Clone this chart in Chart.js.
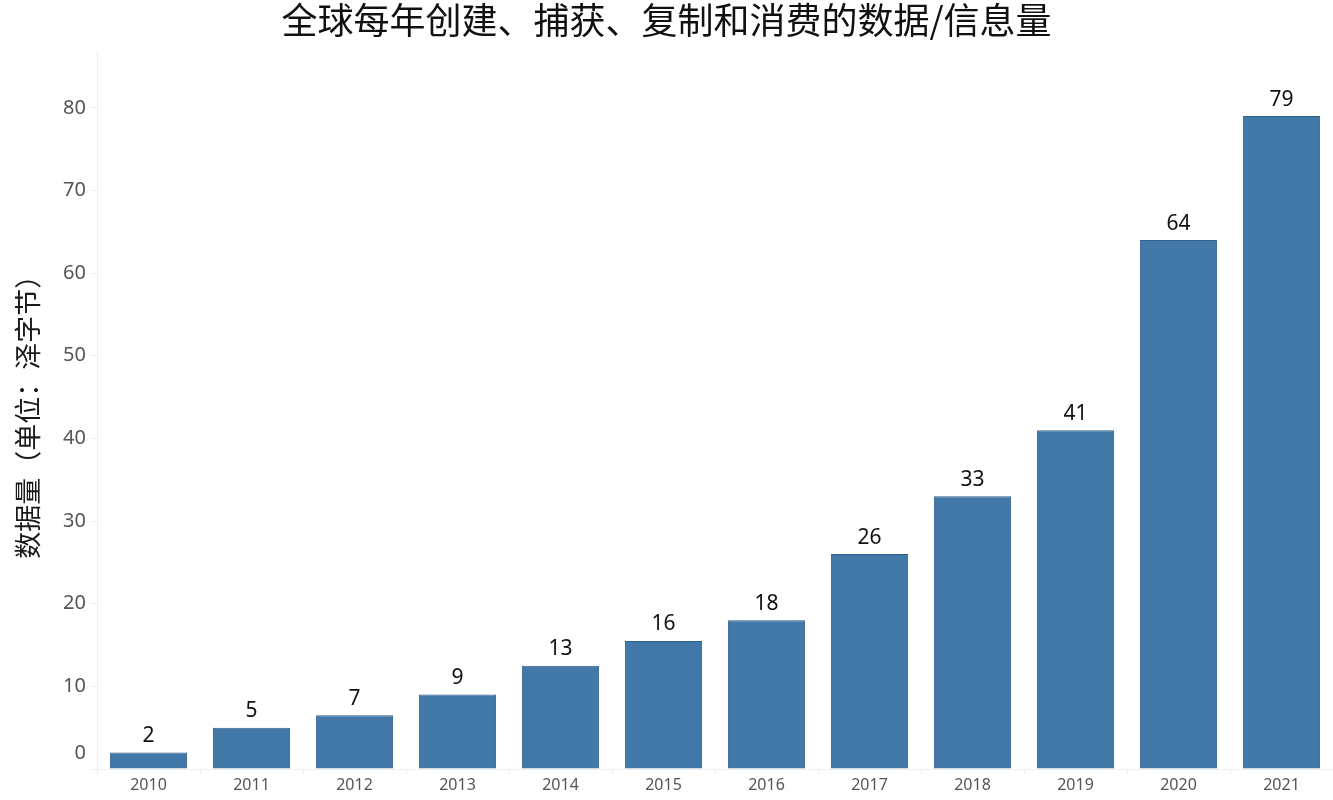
<!DOCTYPE html>
<html>
<head>
<meta charset="utf-8">
<script src="https://cdn.jsdelivr.net/npm/chart.js@4"></script>
<style>
html,body{margin:0;padding:0;background:#fff;}
#wrap{width:1333px;height:800px;}
</style>
</head>
<body>
<div id="wrap"><canvas id="c"></canvas></div>
<script>
const categories = ['2010','2011','2012','2013','2014','2015','2016','2017','2018','2019','2020','2021'];
const values = [2, 5, 6.5, 9, 12.5, 15.5, 18, 26, 33, 41, 64, 79];
const yTicks = [0, 10, 20, 30, 40, 50, 60, 70, 80];
const chartTitle = '全球每年创建、捕获、复制和消费的数据/信息量';
const yTitle = '数据量（单位：泽字节）';

const numFont = "'Noto Sans', 'DejaVu Sans', sans-serif";
const cjkFont = "'Noto Sans CJK SC', sans-serif";

const labelPlugin = {
  id: 'valueLabels',
  afterDatasetsDraw(chart) {
    const ctx = chart.ctx;
    const meta = chart.getDatasetMeta(0);
    ctx.save();
    ctx.font = "21px " + numFont;
    ctx.fillStyle = '#111';
    ctx.textAlign = 'center';
    ctx.textBaseline = 'bottom';
    meta.data.forEach((bar, i) => {
      ctx.fillText(String(Math.round(values[i])), bar.x, bar.y - 6);
    });
    ctx.restore();
  }
};

const zeroLabelPlugin = {
  id: 'zeroLabel',
  afterDraw(chart) {
    const y = chart.scales.y;
    const ctx = chart.ctx;
    ctx.save();
    ctx.font = "20px " + numFont;
    ctx.fillStyle = '#555';
    ctx.textAlign = 'right';
    ctx.textBaseline = 'middle';
    ctx.fillText('0', y.right - 11, y.getPixelForValue(0) - 16);
    ctx.restore();
  }
};

new Chart(document.getElementById('c'), {
  type: 'bar',
  data: {
    labels: categories,
    datasets: [{
      data: values,
      backgroundColor: '#4279a8',
      borderColor: '#2f5f8b',
      borderWidth: 1,
      categoryPercentage: 0.75,
      barPercentage: 1.0
    }]
  },
  options: {
    responsive: true,
    maintainAspectRatio: false,
    animation: false,
    layout: { padding: { left: 0, right: 0, top: 0, bottom: 0 } },
    plugins: {
      legend: { display: false },
      tooltip: { enabled: false },
      title: {
        display: true,
        text: chartTitle,
        color: '#111',
        font: { family: cjkFont, size: 36, weight: 'normal', lineHeight: 1.1 },
        padding: { top: 1, bottom: 11 }
      }
    },
    scales: {
      x: {
        offset: true,
        grid: {
          display: true,
          drawOnChartArea: false,
          drawTicks: true,
          tickLength: 6,
          color: '#eeeeee',
          offset: true
        },
        border: { display: true, color: '#eeeeee' },
        ticks: {
          color: '#555',
          font: { family: numFont, size: 16 },
          padding: 1,
          maxRotation: 0
        },
        afterFit(scale) { scale.height = 31; }
      },
      y: {
        min: 0,
        max: 86.8,
        afterBuildTicks(scale) {
          scale.ticks = yTicks.map(v => ({ value: v }));
        },
        grid: {
          display: true,
          drawOnChartArea: false,
          drawTicks: true,
          tickLength: 6,
          color: '#eeeeee'
        },
        border: { display: true, color: '#eeeeee' },
        ticks: {
          color: '#555',
          font: { family: numFont, size: 20 },
          padding: 5,
          callback: (v) => v === 0 ? '' : String(v)
        },
        title: {
          display: true,
          text: yTitle,
          color: '#1a1a1a',
          font: { family: cjkFont, size: 27, weight: 'normal', lineHeight: 1.2 },
          padding: { top: 12, bottom: 0 }
        },
        afterFit(scale) { scale.width = 97; }
      }
    }
  },
  plugins: [labelPlugin, zeroLabelPlugin]
});
</script>
</body>
</html>
